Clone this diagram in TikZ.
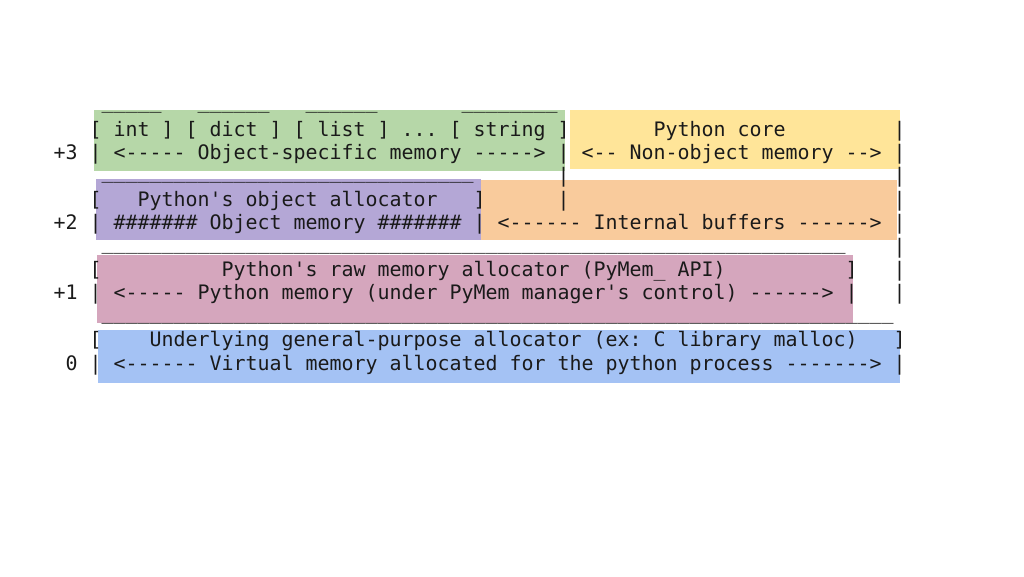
\documentclass[tikz,border=0pt]{standalone}
\usepackage{fontspec}
\setmonofont{DejaVu Sans Mono}
\definecolor{cgreen}{HTML}{B6D7A8}
\definecolor{cyellow}{HTML}{FFE599}
\definecolor{cpurple}{HTML}{B4A7D6}
\definecolor{corange}{HTML}{F9CB9C}
\definecolor{cpink}{HTML}{D5A6BD}
\definecolor{cblue}{HTML}{A4C2F4}
\definecolor{ink}{HTML}{1A1A1A}
\ExplSyntaxOn
\cs_new:Npn \myrep #1 { \prg_replicate:nn {#1} {\_} }
\ExplSyntaxOff
\newcommand\us[1]{\raisebox{4pt}{\myrep{#1}}}
\newcommand\seg[4]{\node[txt] (#1) at ({53.7+12*#3},{112.6+23.4*(#2-1)}) {#4};}
\begin{document}
\begin{tikzpicture}[x=1pt,y=-1pt,
  txt/.style={anchor=base west,inner sep=0pt,outer sep=0pt,text=ink,
    font=\ttfamily\fontsize{19.93pt}{23.4pt}\selectfont},
  band/.style={draw=none}]
\useasboundingbox (0,0) rectangle (1024,576);
% colour bands
\fill[cgreen]  (94,110) rectangle (565,171);
\fill[cyellow] (570,110) rectangle (900,169);
\fill[cpurple] (96,179) rectangle (481,240);
\fill[corange] (481,180) rectangle (897,240);
\fill[cpink]   (97,255) rectangle (853,323);
\fill[cblue]   (98,330) rectangle (900,383);
% line 1
\seg{l1a}{1}{4}{\us{5}}
\seg{l1b}{1}{12}{\us{6}}
\seg{l1c}{1}{21}{\us{6}}
\seg{l1d}{1}{34}{\us{8}}
% line 2
\seg{l2a}{2}{3}{[ int ] [ dict ] [ list ] ... [ string ]}
\seg{l2b}{2}{50}{Python core}
\seg{l2c}{2}{70}{|}
% line 3
\seg{l3a}{3}{0}{+3}
\seg{l3b}{3}{3}{| <----- Object-specific memory -----> | <-- Non-object memory --> |}
% line 4
\seg{l4a}{4}{4}{\us{31}}
\seg{l4b}{4}{42}{|}
\seg{l4c}{4}{70}{|}
% line 5
\seg{l5a}{5}{3}{[}
\seg{l5b}{5}{7}{Python's object allocator}
\seg{l5c}{5}{35}{]}
\seg{l5d}{5}{42}{|}
\seg{l5e}{5}{70}{|}
% line 6
\seg{l6a}{6}{0}{+2}
\seg{l6b}{6}{3}{| \#\#\#\#\#\#\# Object memory \#\#\#\#\#\#\# | <------ Internal buffers ------> |}
% line 7
\seg{l7a}{7}{4}{\us{62}}
\seg{l7b}{7}{70}{|}
% line 8
\seg{l8a}{8}{3}{[}
\seg{l8b}{8}{14}{Python's raw memory allocator (PyMem\_ API)}
\seg{l8c}{8}{66}{]}
\seg{l8d}{8}{70}{|}
% line 9
\seg{l9a}{9}{0}{+1}
\seg{l9b}{9}{3}{| <----- Python memory (under PyMem manager's control) ------> |}
\seg{l9c}{9}{70}{|}
% line 10
\seg{l10a}{10}{4}{\us{66}}
% line 11
\seg{l11a}{11}{3}{[}
\seg{l11b}{11}{8}{Underlying general-purpose allocator (ex: C library malloc)}
\seg{l11c}{11}{70}{]}
% line 12
\seg{l12a}{12}{1}{0}
\seg{l12b}{12}{3}{| <------ Virtual memory allocated for the python process -------> |}
\end{tikzpicture}
\end{document}
